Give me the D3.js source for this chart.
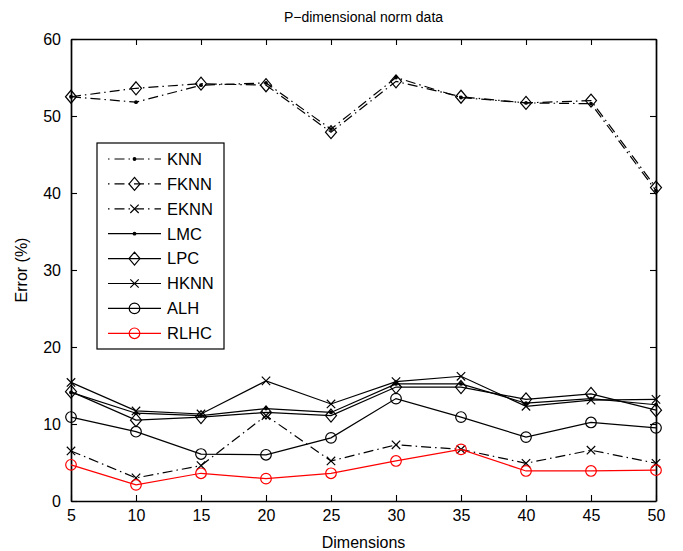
<!DOCTYPE html>
<html>
<head>
<meta charset="utf-8">
<style>
	body { margin: 0; background: #fff; }
	svg { display: block; font-family: "Liberation Sans", Arial, Helvetica, sans-serif; }
	.axis path { stroke: #000; stroke-width: 1.7; }
	.axis line { stroke: #000; stroke-width: 1.1; }
	.axis text { font-size: 16px; fill: #000; font-family: "Liberation Sans", Arial, sans-serif; }
</style>
<script src="https://cdnjs.cloudflare.com/ajax/libs/d3/7.8.5/d3.min.js"></script>
</head>
<body>
<svg id="chart" width="683" height="551"></svg>
<script>
// dimensions on the x axis
let dims = [5, 10, 15, 20, 25, 30, 35, 40, 45, 50];

// error (%) per method
let knn  = [52.5, 51.8, 54.0, 54.3, 48.3, 55.0, 52.4, 51.7, 51.6, 40.3];
let fknn = [52.5, 53.6, 54.2, 54.0, 47.9, 54.5, 52.5, 51.7, 52.0, 40.7];
let eknn = [6.5, 3.0, 4.6, 11.1, 5.2, 7.3, 6.7, 4.9, 6.6, 4.9];
let lmc  = [14.1, 11.4, 11.1, 12.0, 11.5, 15.2, 15.2, 12.7, 13.3, 12.5];
let lpc  = [14.2, 10.5, 10.9, 11.5, 11.1, 14.8, 14.8, 13.2, 13.9, 11.8];
let hknn = [15.4, 11.7, 11.3, 15.6, 12.6, 15.5, 16.2, 12.3, 13.1, 13.2];
let alh  = [10.9, 9.0, 6.1, 6.0, 8.2, 13.3, 10.9, 8.3, 10.2, 9.5];
let rlhc = [4.7, 2.1, 3.6, 2.9, 3.6, 5.2, 6.7, 3.9, 3.9, 4.0];

let yTicks = [0, 10, 20, 30, 40, 50, 60];
let xTicks = [5, 10, 15, 20, 25, 30, 35, 40, 45, 50];

let series = [
	{name: "KNN",  values: knn,  marker: "dot",     dash: true,  color: "#000"},
	{name: "FKNN", values: fknn, marker: "diamond", dash: true,  color: "#000"},
	{name: "EKNN", values: eknn, marker: "x",       dash: true,  color: "#000"},
	{name: "LMC",  values: lmc,  marker: "dot",     dash: false, color: "#000"},
	{name: "LPC",  values: lpc,  marker: "diamond", dash: false, color: "#000"},
	{name: "HKNN", values: hknn, marker: "x",       dash: false, color: "#000"},
	{name: "ALH",  values: alh,  marker: "circle",  dash: false, color: "#000"},
	{name: "RLHC", values: rlhc, marker: "circle",  dash: false, color: "#ff0000"}
];

let pLeft = 71, pRight = 656, pTop = 39, pBottom = 501;

let x = d3.scaleLinear().domain([5, 50]).range([pLeft, pRight]);
let y = d3.scaleLinear().domain([0, 60]).range([pBottom, pTop]);

let svg = d3.select("#chart");

// axes, ticks pointing inward like matlab
let xAxisG = svg.append("g").attr("class", "axis")
	.attr("transform", `translate(0,${pBottom})`)
	.call(d3.axisBottom(x).tickValues(xTicks).tickSizeInner(-6).tickSizeOuter(0).tickPadding(9));
xAxisG.selectAll("text").attr("dy", "0.71em");
let yAxisG = svg.append("g").attr("class", "axis")
	.attr("transform", `translate(${pLeft},0)`)
	.call(d3.axisLeft(y).tickValues(yTicks).tickSizeInner(-6).tickSizeOuter(0).tickPadding(10));
yAxisG.selectAll("text").attr("dy", "0.35em");
svg.append("g").attr("class", "axis")
	.attr("transform", `translate(0,${pTop})`)
	.call(d3.axisTop(x).tickValues(xTicks).tickSizeInner(-6).tickSizeOuter(0).tickFormat(""));
svg.append("g").attr("class", "axis")
	.attr("transform", `translate(${pRight},0)`)
	.call(d3.axisRight(y).tickValues(yTicks).tickSizeInner(-6).tickSizeOuter(0).tickFormat(""));

function drawMarker(g, type, cx, cy, color) {
	if (type === "dot") {
		g.append("circle").attr("cx", cx).attr("cy", cy).attr("r", 1.9).attr("fill", color);
	} else if (type === "diamond") {
		let w = 5.5, h = 6.5;
		g.append("path")
			.attr("d", `M${cx},${cy - h}L${cx + w},${cy}L${cx},${cy + h}L${cx - w},${cy}Z`)
			.attr("fill", "none").attr("stroke", color).attr("stroke-width", 1.2);
	} else if (type === "x") {
		let s = 4.2;
		g.append("path")
			.attr("d", `M${cx - s},${cy - s}L${cx + s},${cy + s}M${cx - s},${cy + s}L${cx + s},${cy - s}`)
			.attr("fill", "none").attr("stroke", color).attr("stroke-width", 1.2);
	} else if (type === "circle") {
		g.append("circle").attr("cx", cx).attr("cy", cy).attr("r", 5.3)
			.attr("fill", "none").attr("stroke", color).attr("stroke-width", 1.2);
	}
}

let line = d3.line()
	.x((d, i) => x(dims[i]))
	.y(d => y(d));

let plot = svg.append("g");
series.forEach(s => {
	plot.append("path")
		.datum(s.values)
		.attr("d", line)
		.attr("fill", "none")
		.attr("stroke", s.color)
		.attr("stroke-width", 1.2)
		.attr("stroke-dasharray", s.dash ? "10,4,1.5,4" : null);
	s.values.forEach((v, i) => drawMarker(plot, s.marker, x(dims[i]), y(v), s.color));
});

// legend
let lg = svg.append("g");
lg.append("rect")
	.attr("x", 97).attr("y", 143).attr("width", 127).attr("height", 206)
	.attr("fill", "#fff").attr("stroke", "#000").attr("stroke-width", 1.2);
series.forEach((s, i) => {
	let ly = 159 + i * 24.9;
	lg.append("line")
		.attr("x1", 108).attr("x2", 161).attr("y1", ly).attr("y2", ly)
		.attr("stroke", s.color).attr("stroke-width", 1.2)
		.attr("stroke-dasharray", s.dash ? "1.5,5,10,4,1.5,4,10,4" : null);
	drawMarker(lg, s.marker, 134.5, ly, s.color);
	lg.append("text")
		.attr("x", 167).attr("y", ly + 5.8)
		.attr("font-size", "16.5px")
		.text(s.name);
});

// title and labels
svg.append("text")
	.attr("x", (pLeft + pRight) / 2).attr("y", 22)
	.attr("text-anchor", "middle").attr("font-size", "14px")
	.text("P\u2212dimensional norm data");
svg.append("text")
	.attr("x", (pLeft + pRight) / 2).attr("y", 548)
	.attr("text-anchor", "middle").attr("font-size", "16px")
	.text("Dimensions");
svg.append("text")
	.attr("transform", `translate(27,${(pTop + pBottom) / 2}) rotate(-90)`)
	.attr("text-anchor", "middle").attr("font-size", "16px")
	.text("Error (%)");
</script>
</body>
</html>
